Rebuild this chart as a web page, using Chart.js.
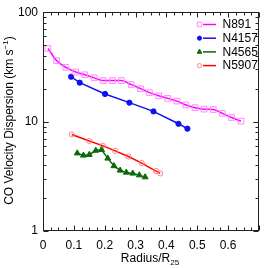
<!DOCTYPE html>
<html>
<head>
<meta charset="utf-8">
<script src="https://cdn.jsdelivr.net/npm/chart.js@4.4.0/dist/chart.umd.min.js"></script>
<style>
  html, body { margin: 0; padding: 0; background: #fff; }
  #wrap { width: 266px; height: 268px; }
</style>
</head>
<body>
<div id="wrap"><canvas id="chart" width="266" height="268"></canvas></div>
<script>
// values (radius in R25, dispersion in km/s)
const n891R = [0.016, 0.044, 0.074, 0.106, 0.135, 0.166, 0.195, 0.225, 0.254, 0.286, 0.316,
  0.345, 0.375, 0.404, 0.434, 0.463, 0.493, 0.522, 0.552, 0.581, 0.611, 0.642];
const n891V = [46.6, 36.1, 31.3, 28.4, 26.8, 25.1, 23.7, 23.7, 23.7, 21.8, 20.0,
  18.4, 17.2, 16.3, 15.4, 14.2, 13.4, 13.0, 12.9, 11.9, 10.9, 10.1];

const n4157R = [0.091, 0.119, 0.201, 0.280, 0.358, 0.439, 0.468];
const n4157V = [25.7, 22.7, 17.9, 14.9, 12.4, 9.55, 8.62];

const n4565R = [0.111, 0.131, 0.150, 0.171, 0.190, 0.210, 0.230, 0.250, 0.270, 0.291, 0.312, 0.331];
const n4565V = [5.14, 4.91, 4.98, 5.44, 5.52, 4.61, 3.93, 3.58, 3.43, 3.36, 3.24, 3.11];

const n5907R = [0.093, 0.150, 0.193, 0.234, 0.277, 0.320, 0.366, 0.380];
const n5907V = [7.62, 6.64, 6.03, 5.40, 4.80, 4.18, 3.53, 3.36];

const galaxies = ['N891', 'N4157', 'N4565', 'N5907'];
const xTickLabels = ['0', '0.1', '0.2', '0.3', '0.4', '0.5', '0.6'];
const yTickLabels = ['1', '10', '100'];

const FONT = '"Liberation Sans", Arial, sans-serif';

function pts(r, v) {
  return r.map((x, i) => ({ x: x, y: v[i] }));
}

const datasets = [
  {
    label: galaxies[0], data: pts(n891R, n891V),
    borderColor: '#ff00ff', borderWidth: 1.5, cubicInterpolationMode: 'monotone',
    pointStyle: 'rect', pointRadius: 4, pointBorderWidth: 1,
    pointBorderColor: '#ff88ff', pointBackgroundColor: 'rgba(0,0,0,0)'
  },
  {
    label: galaxies[1], data: pts(n4157R, n4157V),
    borderColor: '#1010f0', borderWidth: 1.5,
    pointStyle: 'circle', pointRadius: 2.6, pointBorderWidth: 1,
    pointBorderColor: '#1010f0', pointBackgroundColor: '#1010f0'
  },
  {
    label: galaxies[2], data: pts(n4565R, n4565V),
    borderColor: '#0a6a0a', borderWidth: 1.5,
    pointStyle: 'triangle', pointRadius: 3.4, pointBorderWidth: 1,
    pointBorderColor: '#0a6a0a', pointBackgroundColor: '#0a6a0a'
  },
  {
    label: galaxies[3], data: pts(n5907R, n5907V),
    borderColor: '#ff0000', borderWidth: 1.5,
    pointStyle: 'circle', pointRadius: 2.6, pointBorderWidth: 1,
    pointBorderColor: '#ff8080', pointBackgroundColor: 'rgba(0,0,0,0)'
  }
];

// frame, inward ticks, axis titles and legend
const framePlugin = {
  id: 'frame',
  afterDraw(chart) {
    const ctx = chart.ctx;
    const a = chart.chartArea;
    const xs = chart.scales.x, ys = chart.scales.y;
    const L = Math.round(a.left) + 0.5, R = Math.round(a.right) - 0.5;
    const T = Math.round(a.top) + 0.5, B = Math.round(a.bottom) - 0.5;
    ctx.save();
    ctx.strokeStyle = '#222';
    ctx.lineWidth = 1;
    ctx.strokeRect(L, T, R - L, B - T);

    ctx.beginPath();
    for (let i = 0; i <= 28; i++) {
      const v = i * 0.025;
      const px = Math.round(xs.getPixelForValue(v)) + 0.5;
      const len = i % 4 === 0 ? 5 : 3;
      ctx.moveTo(px, B); ctx.lineTo(px, B - len);
      ctx.moveTo(px, T); ctx.lineTo(px, T + len);
    }
    for (let d = 1; d <= 10; d *= 10) {
      for (let m = 1; m <= 10; m++) {
        const v = d * m;
        if (v > 100) break;
        const py = Math.round(ys.getPixelForValue(v)) + 0.5;
        const len = m === 1 || m === 10 ? 5 : 3;
        ctx.moveTo(L, py); ctx.lineTo(L + len, py);
        ctx.moveTo(R, py); ctx.lineTo(R - len, py);
      }
    }
    ctx.stroke();

    // axis titles
    ctx.fillStyle = '#000';
    ctx.textBaseline = 'alphabetic';
    ctx.font = '12px ' + FONT;
    const main = 'Radius/R';
    ctx.font = '12px ' + FONT;
    const w1 = ctx.measureText(main).width;
    ctx.font = '8px ' + FONT;
    const w2 = ctx.measureText('25').width;
    let tx = (a.left + a.right) / 2 - (w1 + w2) / 2 - 1;
    ctx.font = '12px ' + FONT;
    ctx.textAlign = 'left';
    ctx.fillText(main, tx, 262);
    ctx.font = '8px ' + FONT;
    ctx.fillText('25', tx + w1, 265);

    ctx.save();
    ctx.translate(13, (a.top + a.bottom) / 2 - 1);
    ctx.rotate(-Math.PI / 2);
    const p1 = 'CO Velocity Dispersion (km s', p2 = '\u22121', p3 = ')';
    ctx.font = '12px ' + FONT;
    const a1 = ctx.measureText(p1).width, a3 = ctx.measureText(p3).width;
    ctx.font = '8px ' + FONT;
    const a2 = ctx.measureText(p2).width;
    let sx = -(a1 + a2 + a3) / 2;
    ctx.font = '12px ' + FONT;
    ctx.fillText(p1, sx, 0);
    ctx.font = '8px ' + FONT;
    ctx.fillText(p2, sx + a1, -5);
    ctx.font = '12px ' + FONT;
    ctx.fillText(p3, sx + a1 + a2, 0);
    ctx.restore();

    // legend: marker, short line, name
    ctx.font = '12px ' + FONT;
    ctx.textBaseline = 'middle';
    chart.data.datasets.forEach((ds, i) => {
      const y = 24.5 + i * 13.7;
      ctx.strokeStyle = ds.borderColor;
      ctx.lineWidth = ds.borderWidth;
      ctx.beginPath();
      ctx.moveTo(203, y); ctx.lineTo(216, y);
      ctx.stroke();
      ctx.strokeStyle = ds.pointBorderColor;
      ctx.fillStyle = ds.pointBackgroundColor;
      ctx.lineWidth = ds.pointBorderWidth;
      Chart.helpers.drawPoint(ctx, {
        pointStyle: ds.pointStyle, radius: ds.pointRadius * 0.8,
        rotation: 0, borderWidth: ds.pointBorderWidth
      }, 199.5, y);
      ctx.fillStyle = '#000';
      ctx.fillText(ds.label, 222.5, y + 0.5);
    });
    ctx.restore();
  }
};

new Chart(document.getElementById('chart'), {
  type: 'line',
  data: { datasets: datasets },
  plugins: [framePlugin],
  options: {
    responsive: false,
    animation: false,
    devicePixelRatio: 1,
    layout: { padding: { top: 8, right: 1, left: 0, bottom: 0 } },
    plugins: { legend: { display: false }, tooltip: { enabled: false } },
    scales: {
      x: {
        type: 'linear', min: 0, max: 0.7,
        grid: { display: false, drawTicks: false },
        border: { display: false },
        afterFit: s => { s.height = 37; },
        ticks: {
          stepSize: 0.1, padding: 7, color: '#000', autoSkip: false, maxRotation: 0,
          font: { size: 12, family: FONT },
          callback: v => {
            const k = Math.round(v * 10);
            return xTickLabels[k] !== undefined && Math.abs(v * 10 - k) < 1e-6 ? xTickLabels[k] : '';
          }
        }
      },
      y: {
        type: 'logarithmic', min: 1, max: 100,
        grid: { display: false, drawTicks: false },
        border: { display: false },
        afterFit: s => { s.width = 43; },
        ticks: {
          padding: 5, color: '#000', autoSkip: false,
          font: { size: 12, family: FONT },
          callback: v => yTickLabels.includes(String(v)) ? String(v) : ''
        }
      }
    }
  }
});
</script>
</body>
</html>
